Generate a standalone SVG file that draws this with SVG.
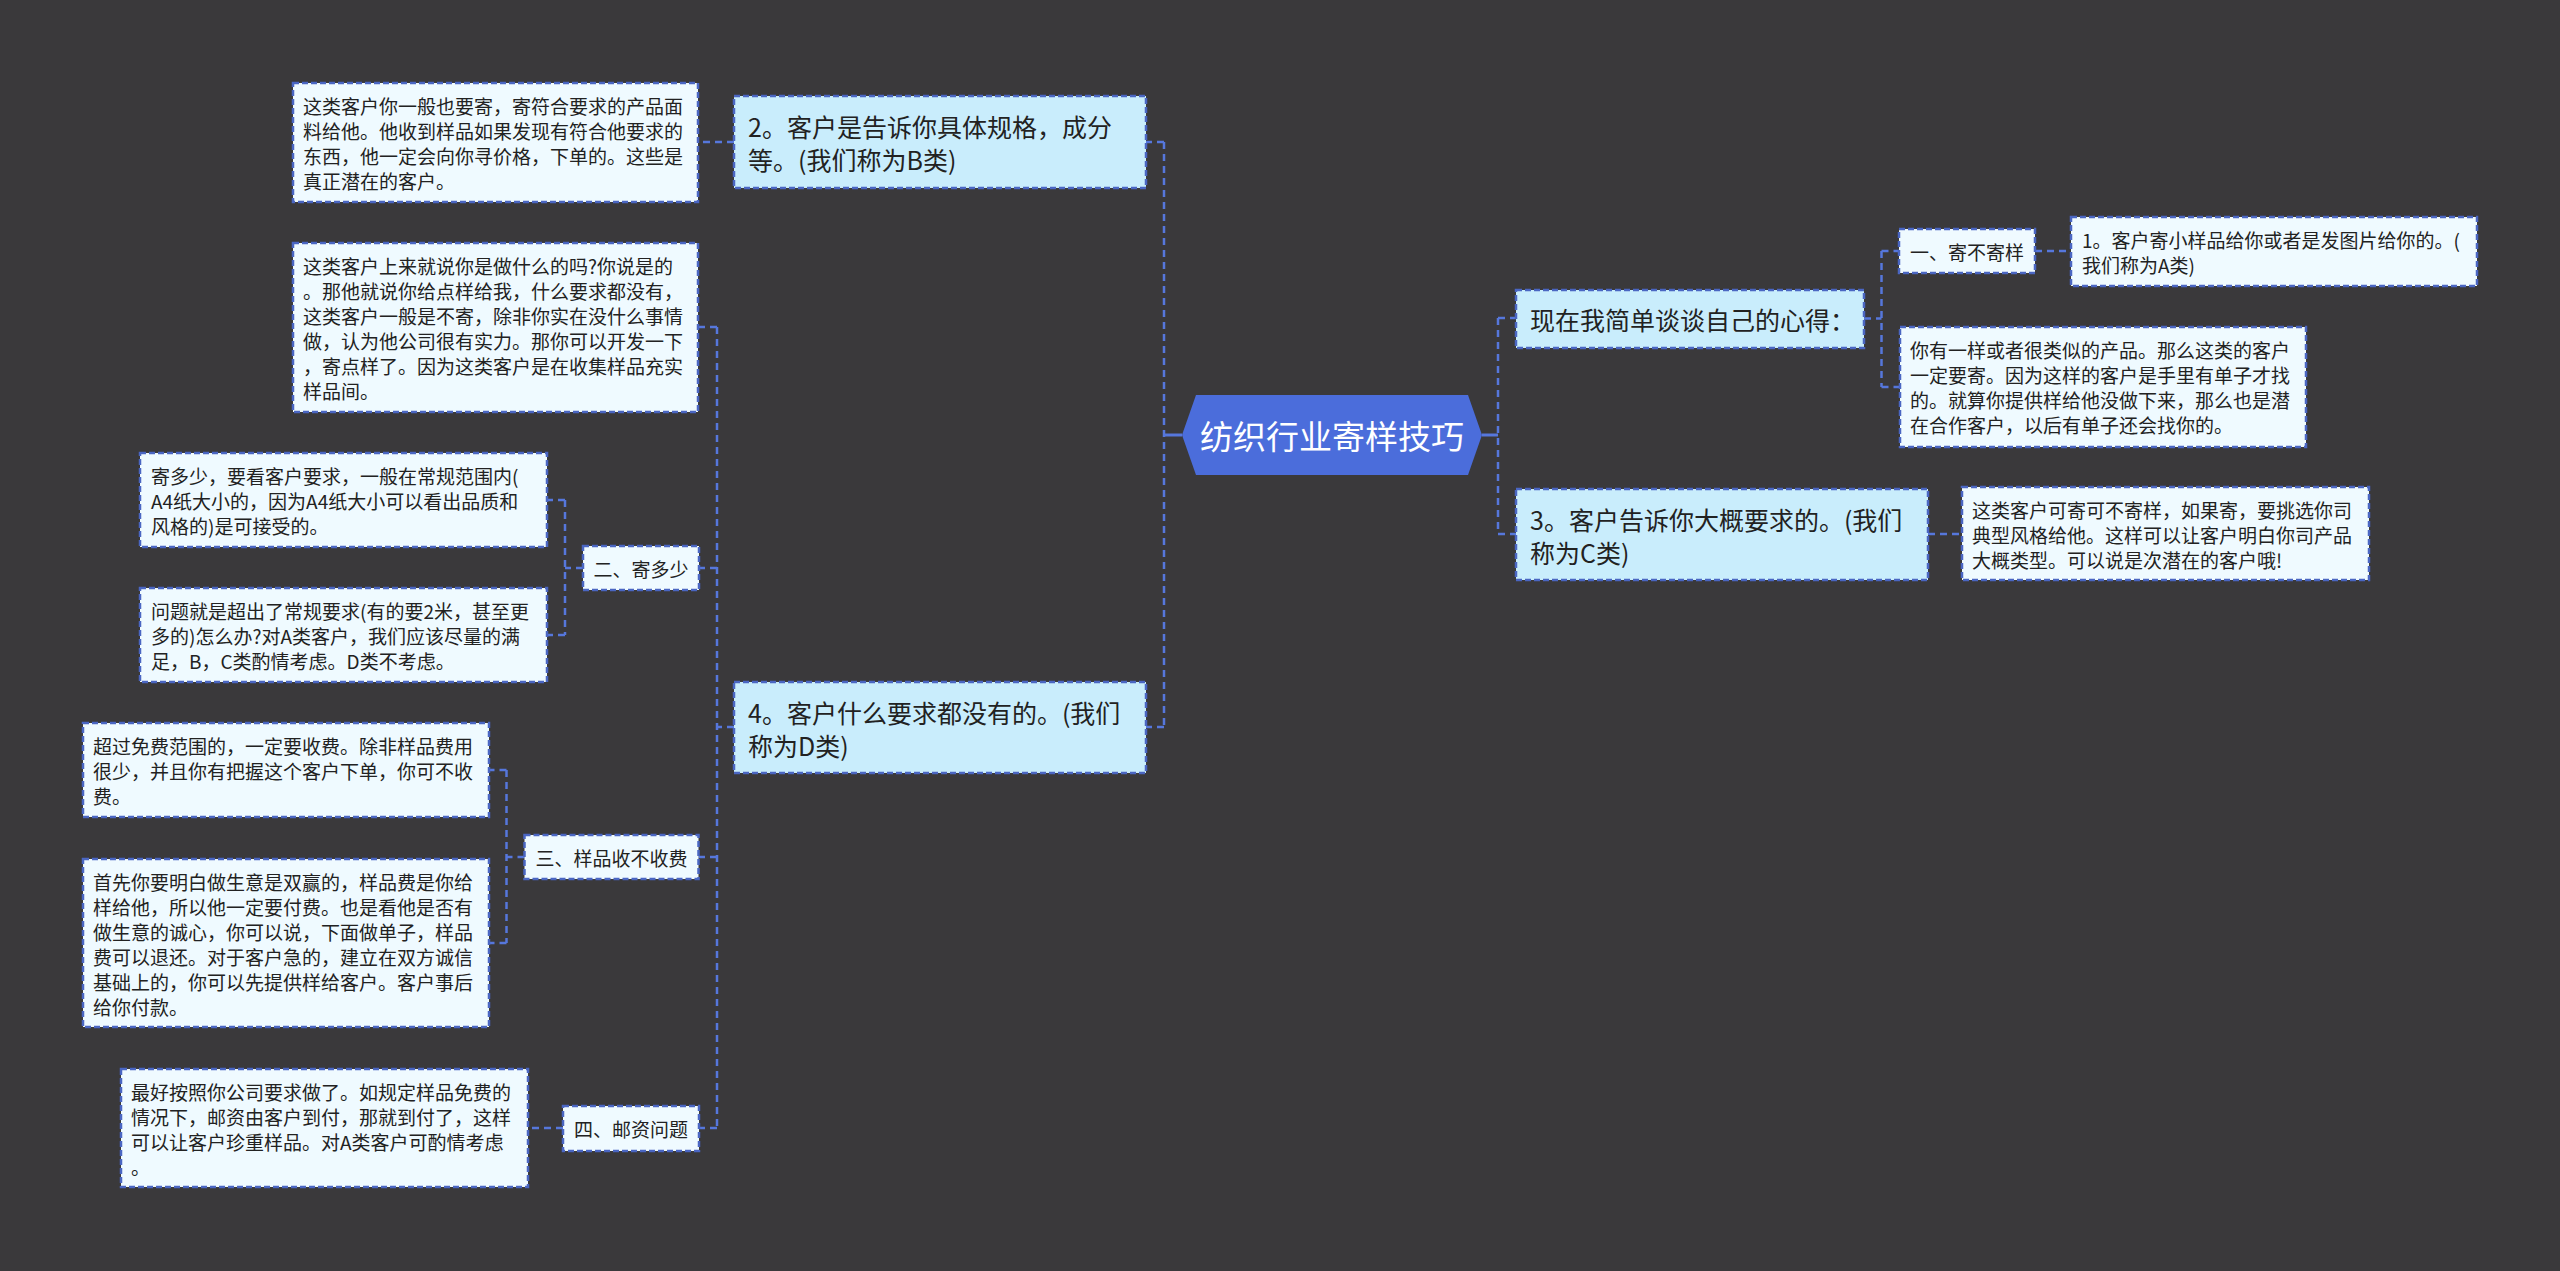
<svg xmlns="http://www.w3.org/2000/svg" width="2560" height="1271" viewBox="0 0 2560 1271">
<style>
.bg{fill:#3a393b}
.root{fill:#4b6ddb}
.main{fill:#c9edfc;stroke:#4a66c2;stroke-width:2.5;stroke-dasharray:6 3}
.det{fill:#effaff;stroke:#4a66c2;stroke-width:2.5;stroke-dasharray:6 3}
.conn{fill:none;stroke:#5677dc;stroke-width:2.5;stroke-dasharray:7 5}
.solid{fill:none;stroke:#5677dc;stroke-width:3}
text{font-family:"Noto Sans CJK SC","Microsoft YaHei","Liberation Sans",sans-serif;dominant-baseline:central;fill:#222}
.tr{font-size:33px;fill:#ffffff;text-anchor:middle}
.tm{font-size:25px}
.td{font-size:19px}
.tl{font-size:19px;text-anchor:middle}
</style>
<rect class="bg" x="0" y="0" width="2560" height="1271"/>

<g id="connectors">
  <path class="solid" d="M1182,435 H1164"/>
  <path class="conn" d="M1164,142 V727"/>
  <path class="conn" d="M1164,142 H1146 M1164,727 H1146"/>
  <path class="solid" d="M1482,435 H1498"/>
  <path class="conn" d="M1498,318 V534"/>
  <path class="conn" d="M1498,318 H1516 M1498,534 H1516"/>
  <path class="conn" d="M734,142 H698"/>
  <path class="conn" d="M734,727 H717 M717,327 V1128 M717,327 H698 M717,568 H699 M717,857 H698.5 M717,1128 H699"/>
  <path class="conn" d="M583,568 H565 M565,500 V635 M565,500 H547 M565,635 H547"/>
  <path class="conn" d="M524.5,857 H506.5 M506.5,770 V943 M506.5,770 H489 M506.5,943 H489"/>
  <path class="conn" d="M563,1128 H528"/>
  <path class="conn" d="M1864,318.5 H1881.5 M1881.5,251 V387 M1881.5,251 H1899 M1881.5,387 H1900"/>
  <path class="conn" d="M2035,251 H2071"/>
  <path class="conn" d="M1928,534 H1962"/>
</g>

<g id="n-root">
  <polygon class="root" points="1182,435 1196,395 1468,395 1482,435 1468,475 1196,475"/>
  <text class="tr" x="1332" y="435">纺织行业寄样技巧</text>
</g>

<g id="n-b">
  <rect class="main" x="734" y="96" width="412" height="92"/>
  <text class="tm"><tspan x="748" y="125.5">2。客户是告诉你具体规格，成分</tspan><tspan x="748" y="158.5">等。(我们称为B类)</tspan></text>
</g>

<g id="n-d">
  <rect class="main" x="734" y="682" width="412" height="91"/>
  <text class="tm"><tspan x="748" y="711.5">4。客户什么要求都没有的。(我们</tspan><tspan x="748" y="744.5">称为D类)</tspan></text>
</g>

<g id="n-now">
  <rect class="main" x="1516" y="290" width="348" height="58"/>
  <text class="tm" x="1530" y="319">现在我简单谈谈自己的心得：</text>
</g>

<g id="n-c">
  <rect class="main" x="1516" y="489" width="412" height="91"/>
  <text class="tm"><tspan x="1530" y="518.5">3。客户告诉你大概要求的。(我们</tspan><tspan x="1530" y="551.5">称为C类)</tspan></text>
</g>

<g id="n-b-detail">
  <rect class="det" x="293" y="83" width="405" height="119"/>
  <text class="td"><tspan x="303" y="105">这类客户你一般也要寄，寄符合要求的产品面</tspan><tspan x="303" y="130">料给他。他收到样品如果发现有符合他要求的</tspan><tspan x="303" y="155">东西，他一定会向你寻价格，下单的。这些是</tspan><tspan x="303" y="180">真正潜在的客户。</tspan></text>
</g>

<g id="n-d-detail">
  <rect class="det" x="293" y="243" width="405" height="169"/>
  <text class="td"><tspan x="303" y="265">这类客户上来就说你是做什么的吗?你说是的</tspan><tspan x="303" y="290">。那他就说你给点样给我，什么要求都没有，</tspan><tspan x="303" y="315">这类客户一般是不寄，除非你实在没什么事情</tspan><tspan x="303" y="340">做，认为他公司很有实力。那你可以开发一下</tspan><tspan x="303" y="365">，寄点样了。因为这类客户是在收集样品充实</tspan><tspan x="303" y="390">样品间。</tspan></text>
</g>

<g id="n-er">
  <rect class="det" x="583" y="546" width="116" height="44"/>
  <text class="tl" x="641" y="568">二、寄多少</text>
</g>

<g id="n-er-1">
  <rect class="det" x="140" y="453" width="407" height="94"/>
  <text class="td"><tspan x="151" y="475">寄多少，要看客户要求，一般在常规范围内(</tspan><tspan x="151" y="500">A4纸大小的，因为A4纸大小可以看出品质和</tspan><tspan x="151" y="525">风格的)是可接受的。</tspan></text>
</g>

<g id="n-er-2">
  <rect class="det" x="140" y="588" width="407" height="94"/>
  <text class="td"><tspan x="151" y="610">问题就是超出了常规要求(有的要2米，甚至更</tspan><tspan x="151" y="635">多的)怎么办?对A类客户，我们应该尽量的满</tspan><tspan x="151" y="660">足，B，C类酌情考虑。D类不考虑。</tspan></text>
</g>

<g id="n-san">
  <rect class="det" x="524.5" y="835" width="174" height="44"/>
  <text class="tl" x="611.5" y="857">三、样品收不收费</text>
</g>

<g id="n-san-1">
  <rect class="det" x="83" y="723" width="406" height="94"/>
  <text class="td"><tspan x="93" y="745">超过免费范围的，一定要收费。除非样品费用</tspan><tspan x="93" y="770">很少，并且你有把握这个客户下单，你可不收</tspan><tspan x="93" y="795">费。</tspan></text>
</g>

<g id="n-san-2">
  <rect class="det" x="83" y="859" width="406" height="168"/>
  <text class="td"><tspan x="93" y="881">首先你要明白做生意是双赢的，样品费是你给</tspan><tspan x="93" y="906">样给他，所以他一定要付费。也是看他是否有</tspan><tspan x="93" y="931">做生意的诚心，你可以说，下面做单子，样品</tspan><tspan x="93" y="956">费可以退还。对于客户急的，建立在双方诚信</tspan><tspan x="93" y="981">基础上的，你可以先提供样给客户。客户事后</tspan><tspan x="93" y="1006">给你付款。</tspan></text>
</g>

<g id="n-si">
  <rect class="det" x="563" y="1106" width="136" height="45"/>
  <text class="tl" x="631" y="1128.5">四、邮资问题</text>
</g>

<g id="n-si-1">
  <rect class="det" x="121" y="1069" width="407" height="118"/>
  <text class="td"><tspan x="131" y="1091">最好按照你公司要求做了。如规定样品免费的</tspan><tspan x="131" y="1116">情况下，邮资由客户到付，那就到付了，这样</tspan><tspan x="131" y="1141">可以让客户珍重样品。对A类客户可酌情考虑</tspan><tspan x="131" y="1166">。</tspan></text>
</g>

<g id="n-yi">
  <rect class="det" x="1899" y="229" width="136" height="44"/>
  <text class="tl" x="1967" y="251">一、寄不寄样</text>
</g>

<g id="n-yi-1">
  <rect class="det" x="2071" y="217" width="406" height="69"/>
  <text class="td"><tspan x="2082" y="239">1。客户寄小样品给你或者是发图片给你的。(</tspan><tspan x="2082" y="264">我们称为A类)</tspan></text>
</g>

<g id="n-now-2">
  <rect class="det" x="1900" y="327" width="406" height="120"/>
  <text class="td"><tspan x="1910" y="349">你有一样或者很类似的产品。那么这类的客户</tspan><tspan x="1910" y="374">一定要寄。因为这样的客户是手里有单子才找</tspan><tspan x="1910" y="399">的。就算你提供样给他没做下来，那么也是潜</tspan><tspan x="1910" y="424">在合作客户，以后有单子还会找你的。</tspan></text>
</g>

<g id="n-c-detail">
  <rect class="det" x="1962" y="487" width="407" height="93"/>
  <text class="td"><tspan x="1972" y="509">这类客户可寄可不寄样，如果寄，要挑选你司</tspan><tspan x="1972" y="534">典型风格给他。这样可以让客户明白你司产品</tspan><tspan x="1972" y="559">大概类型。可以说是次潜在的客户哦!</tspan></text>
</g>
</svg>
